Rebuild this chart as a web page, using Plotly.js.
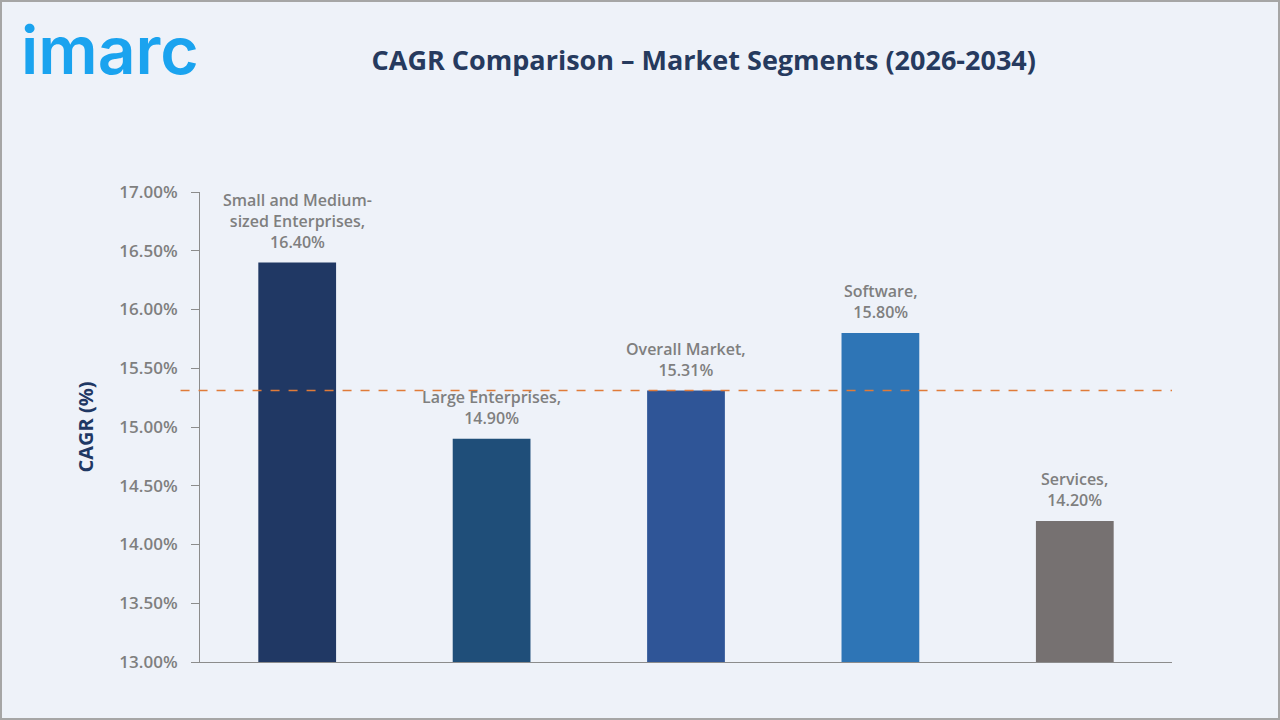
<!DOCTYPE html>
<html>
<head>
<meta charset="utf-8">
<script src="https://cdn.plot.ly/plotly-3.0.1.min.js"></script>
<style>
  html, body { margin: 0; padding: 0; background: #eef2f9; }
  #chart { width: 1280px; height: 720px; box-sizing: border-box; border: 2px solid #a6a6a6; }
</style>
</head>
<body>
<div id="chart"></div>
<script>
// Segment CAGR values, 2026-2034
const categories = ["Small and Medium-sized Enterprises", "Large Enterprises", "Overall Market", "Software", "Services"];
const labelLines = ["Small and Medium-<br>sized Enterprises,", "Large Enterprises,", "Overall Market,", "Software,", "Services,"];
const cagrValues = [16.40, 14.90, 15.31, 15.80, 14.20];
const barColors = ["#203864", "#1f4e79", "#2f5597", "#2e75b6", "#767171"];
const yTickValues = [13.0, 13.5, 14.0, 14.5, 15.0, 15.5, 16.0, 16.5, 17.0];
const overallMarket = cagrValues[2];

const labelFont = { family: "Open Sans, sans-serif", size: 16, color: "#7f7f7f", weight: 600 };

const trace = {
  type: "bar",
  x: categories,
  y: cagrValues,
  width: 0.4,
  marker: { color: barColors },
  hoverinfo: "skip"
};

// Value labels sitting above each bar
const valueLabels = categories.map((c, i) => ({
  x: c,
  y: cagrValues[i],
  xref: "x", yref: "y",
  text: labelLines[i] + "<br>" + cagrValues[i].toFixed(2) + "%",
  showarrow: false,
  xanchor: "center", yanchor: "bottom",
  yshift: 8,
  font: labelFont
}));

const layout = {
  width: 1276,
  height: 716,
  paper_bgcolor: "#eef2f9",
  plot_bgcolor: "#eef2f9",
  margin: { l: 198, r: 106, t: 190, b: 56 },
  showlegend: false,
  title: {
    text: "CAGR Comparison – Market Segments (2026-2034)",
    font: { family: "Open Sans, sans-serif", size: 27, color: "#263a5e", weight: 700 },
    x: 0.55, xanchor: "center", y: 0.918, yanchor: "middle"
  },
  xaxis: {
    type: "category",
    range: [-0.5, 4.5],
    showticklabels: false,
    ticks: "",
    showgrid: false,
    zeroline: false,
    showline: true,
    linecolor: "#8c8c8c",
    linewidth: 1
  },
  yaxis: {
    range: [13, 17],
    tickvals: yTickValues,
    ticktext: yTickValues.map(v => v.toFixed(2) + "%"),
    ticks: "outside",
    ticklen: 8,
    tickcolor: "#8c8c8c",
    ticklabelstandoff: 10,
    showgrid: false,
    zeroline: false,
    showline: true,
    linecolor: "#8c8c8c",
    linewidth: 1,
    tickfont: { family: "Open Sans, sans-serif", size: 17, color: "#7f7f7f", weight: 600 },
    title: {
      text: "CAGR (%)",
      font: { family: "Open Sans, sans-serif", size: 20, color: "#1f3864", weight: 700 },
      standoff: 20
    }
  },
  shapes: [{
    type: "line",
    xref: "paper", yref: "y",
    x0: -0.02, x1: 1.0,
    y0: overallMarket, y1: overallMarket,
    line: { color: "#e07b39", width: 1.5, dash: "dash" }
  }],
  annotations: [{
    text: "imarc",
    xref: "paper", yref: "paper",
    x: -0.186, y: 1.302,
    xanchor: "left", yanchor: "middle",
    showarrow: false,
    font: { family: "Inter, sans-serif", size: 66, color: "#1aa3ef", weight: 600 }
  }].concat(valueLabels)
};

Plotly.newPlot("chart", [trace], layout, { displayModeBar: false, staticPlot: true });
</script>
</body>
</html>
